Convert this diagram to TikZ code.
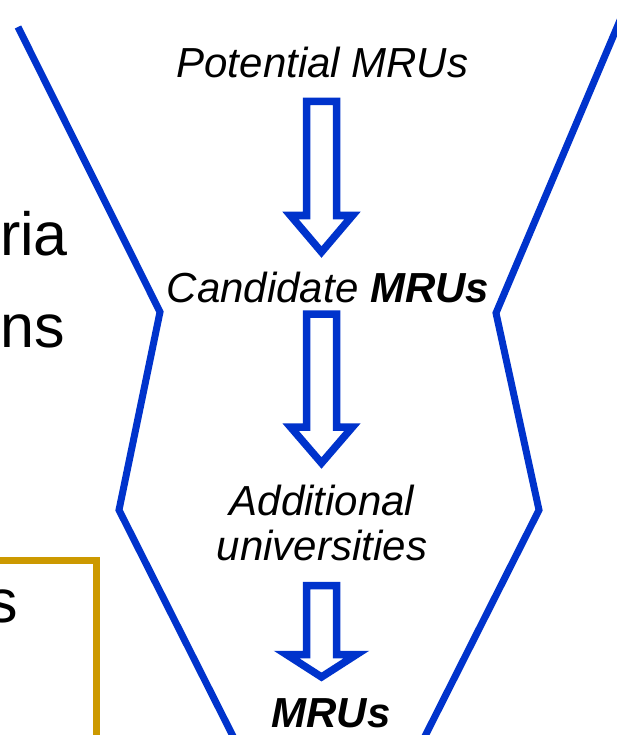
\documentclass[tikz,border=0pt]{standalone}
\usepackage{fontspec}
\setmainfont{Liberation Sans}
\usetikzlibrary{calc}

\definecolor{funnelblue}{RGB}{0,51,204}
\definecolor{boxgold}{RGB}{204,153,0}

\tikzset{
    funnel/.style={draw=funnelblue, line width=7pt},
    hollow/.style={draw=funnelblue, line width=7.5pt, line join=miter},
    stage/.style={font=\fontsize{42}{45}\selectfont\itshape, inner sep=0pt, align=center, anchor=base},
    cutoff/.style={font=\fontsize{61}{70}\selectfont, inner sep=0pt, anchor=base east}
}

% hollow down arrow: shaft top, tip, head length, head half-width
\newcommand{\hollowarrow}[4]{%
    \draw[hollow] let \p1=(#1), \p2=(#2) in
        (\x1-15,\y1) -- (\x1+15,\y1) -- (\x1+15,\y2+#3) -- (\x1+#4,\y2+#3)
        -- (\x2,\y2) -- (\x1-#4,\y2+#3) -- (\x1-15,\y2+#3) -- cycle;
}

\begin{document}
\begin{tikzpicture}[x=1pt, y=-1pt]

\clip (0,0) rectangle (617,735);
\fill[white] (0,0) rectangle (617,735);

% Funnel walls
\draw[funnel] (18,27) -- (160,312) -- (119,510) -- (245,760);
\draw[funnel] (632,-8) -- (496,313) -- (539,510) -- (413,760);

% Cut-off text on the left
\node[cutoff] (ria) at (68,255) {ria};
\node[cutoff] (ns) at (65,347) {ns};
\node[cutoff] (s) at (18,622) {s};

% Box
\draw[draw=boxgold, line width=7pt] (-20,560.5) rectangle (96.5,740);

% Stages
\node[stage] (pot) at (322.5,78) {Potential MRUs};
\node[stage] (cand) at (328,302) {Candidate \textbf{MRUs}};
\node[stage] (addl) at (322,560) {Additional\\universities};
\node[stage] (mru) at (331,727) {\textbf{MRUs}};

% Arrows between stages
\coordinate (a1top) at (321.5,101.5);
\coordinate (a1tip) at (321.5,252);
\coordinate (a2top) at (321.5,314);
\coordinate (a2tip) at (321.5,463);
\coordinate (a3top) at (321.5,585.5);
\coordinate (a3tip) at (321.5,677);
\hollowarrow{a1top}{a1tip}{36.5}{31}
\hollowarrow{a2top}{a2tip}{36}{31}
\hollowarrow{a3top}{a3tip}{22.5}{35}

\end{tikzpicture}
\end{document}
